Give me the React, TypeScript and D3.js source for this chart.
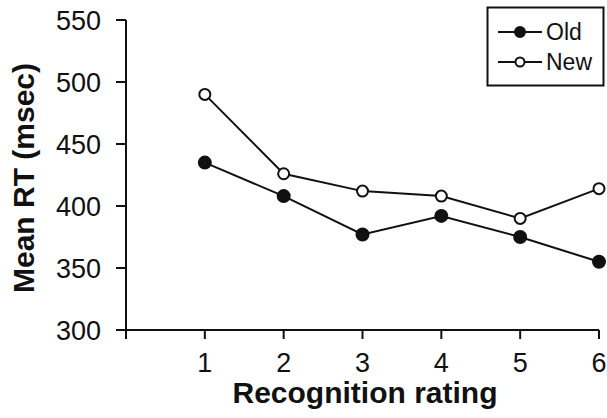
import React from 'react';
import * as d3 from 'd3';

// values
const ratings = [1, 2, 3, 4, 5, 6];
const oldRT = [435, 408, 377, 392, 375, 355];
const newRT = [490, 426, 412, 408, 390, 414];
const yTicks = [300, 350, 400, 450, 500, 550];
const seriesNames = ['Old', 'New'];

const W = 607;
const H = 418;
const FONT = '"Liberation Sans", Arial, Helvetica, sans-serif';

function App() {
  const x = d3.scaleLinear().domain([0, 6]).range([126, 599]);
  const y = d3.scaleLinear().domain([300, 550]).range([330, 20]);

  const line = d3
    .line<number>()
    .x((d, i) => x(ratings[i]))
    .y(d => y(d));

  const series = [
    { name: seriesNames[0], values: oldRT, filled: true },
    { name: seriesNames[1], values: newRT, filled: false },
  ];

  return (
    <svg
      width={W}
      height={H}
      style={{ position: 'absolute', left: 0, top: 0, background: '#fff' }}
      fontFamily={FONT}
    >
      {/* y axis */}
      <line x1={x(0)} x2={x(0)} y1={y(550)} y2={y(300)} stroke="#111" strokeWidth={2} />
      {yTicks.map(t => (
        <g key={t}>
          <line x1={x(0) - 10} x2={x(0)} y1={y(t)} y2={y(t)} stroke="#111" strokeWidth={2} />
          <text x={101} y={y(t)} dy="0.36em" textAnchor="end" fontSize={27} fill="#111">
            {t}
          </text>
        </g>
      ))}
      <text
        transform={`translate(34,178) rotate(-90)`}
        textAnchor="middle"
        fontSize={30}
        fontWeight="bold"
        fill="#111"
      >
        Mean RT (msec)
      </text>

      {/* x axis */}
      <line x1={x(0)} x2={x(6)} y1={y(300)} y2={y(300)} stroke="#111" strokeWidth={2} />
      {[0, ...ratings].map(r => (
        <line key={r} x1={x(r)} x2={x(r)} y1={y(300)} y2={y(300) + 9} stroke="#111" strokeWidth={2} />
      ))}
      {ratings.map(r => (
        <text key={r} x={x(r)} y={372} textAnchor="middle" fontSize={27} fill="#111">
          {r}
        </text>
      ))}
      <text x={365} y={403} textAnchor="middle" fontSize={30} fontWeight="bold" fill="#111">
        Recognition rating
      </text>

      {/* series */}
      {series.map(s => (
        <g key={s.name}>
          <path d={line(s.values) || ''} fill="none" stroke="#111" strokeWidth={2} />
          {s.values.map((v, i) => (
            <circle
              key={i}
              cx={x(ratings[i])}
              cy={y(v)}
              r={s.filled ? 6 : 5.5}
              fill={s.filled ? '#111' : '#fff'}
              stroke="#111"
              strokeWidth={2}
            />
          ))}
        </g>
      ))}

      {/* legend */}
      <rect x={487.5} y={7.5} width={116} height={78} fill="#fff" stroke="#111" strokeWidth={2} />
      {series.map((s, i) => {
        const ly = 32 + i * 30;
        return (
          <g key={s.name}>
            <line x1={498} x2={542} y1={ly} y2={ly} stroke="#111" strokeWidth={2} />
            <circle
              cx={520}
              cy={ly}
              r={s.filled ? 5 : 4.5}
              fill={s.filled ? '#111' : '#fff'}
              stroke="#111"
              strokeWidth={2}
            />
            <text x={546} y={ly} dy="0.35em" fontSize={23} fill="#111">
              {s.name}
            </text>
          </g>
        );
      })}
    </svg>
  );
}

export default App;
